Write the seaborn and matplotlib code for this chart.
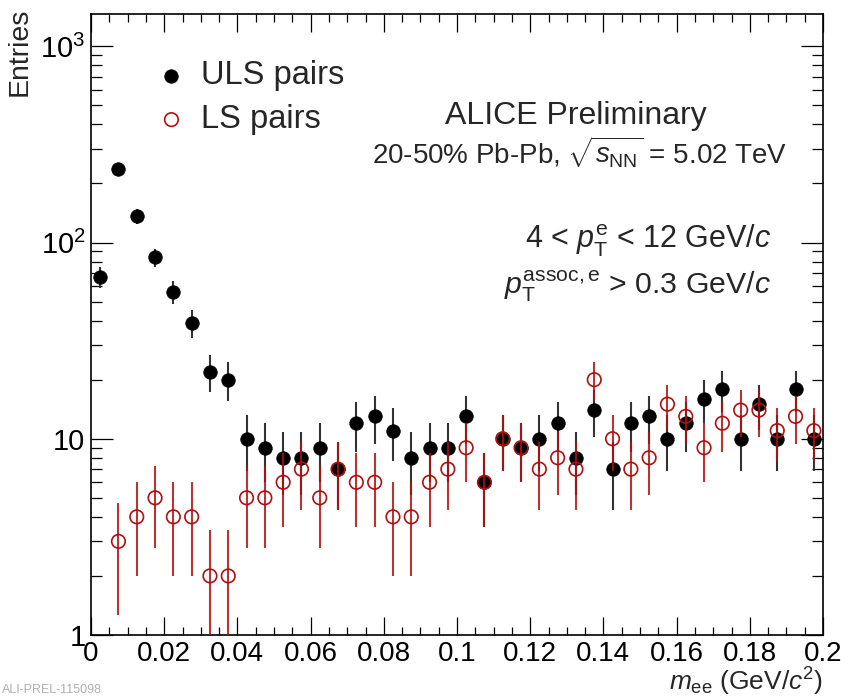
import numpy as np
import pandas as pd
import matplotlib
matplotlib.use('Agg')
import matplotlib.pyplot as plt
import matplotlib.ticker as mticker
import seaborn as sns

# bin centres of m_ee (GeV/c^2), 40 bins of 5 MeV
mass = np.arange(0.0025, 0.2, 0.005)

uls_counts = [67, 236, 136, 84, 56, 39, 22, 20, 10, 9,
              8, 8, 9, 7, 12, 13, 11, 8, 9, 9,
              13, 6, 10, 9, 10, 12, 8, 14, 7, 12,
              13, 10, 12, 16, 18, 10, 15, 10, 18, 10]
ls_counts = [0, 3, 4, 5, 4, 4, 2, 2, 5, 5,
             6, 7, 5, 7, 6, 6, 4, 4, 6, 7,
             9, 6, 10, 9, 7, 8, 7, 20, 10, 7,
             8, 15, 13, 9, 12, 14, 14, 11, 13, 11]

ytick_vals = [1, 10, 100, 1000]
ytick_labels = ['1', '10', r'$10^{2}$', r'$10^{3}$']

sns.set_style('ticks')
plt.rcParams['font.family'] = ['Liberation Sans', 'DejaVu Sans']
plt.rcParams['mathtext.fontset'] = 'custom'
plt.rcParams['mathtext.rm'] = 'Liberation Sans'
plt.rcParams['mathtext.it'] = 'Liberation Sans:italic'
plt.rcParams['mathtext.bf'] = 'Liberation Sans:bold'

df = pd.DataFrame({'mass': np.concatenate([mass, mass]),
                   'counts': np.concatenate([uls_counts, ls_counts]),
                   'pair': ['ULS pairs'] * len(mass) + ['LS pairs'] * len(mass)})
df = df[df['counts'] > 0]
df['err'] = np.sqrt(df['counts'])

red = '#b01010'

fig = plt.figure(figsize=(8.5, 6.97), dpi=100)
ax = fig.add_axes([91 / 850, 62 / 697, 732 / 850, 621 / 697])

uls = df[df['pair'] == 'ULS pairs']
ls = df[df['pair'] == 'LS pairs']

ax.errorbar(uls['mass'], uls['counts'], yerr=uls['err'], fmt='none',
            ecolor='#333333', elinewidth=1.5, capsize=0, zorder=2)
sns.scatterplot(data=uls, x='mass', y='counts', ax=ax, marker='o', s=95,
                color='black', edgecolor='black', linewidth=0.5,
                label='ULS pairs', zorder=3)
ax.errorbar(ls['mass'], ls['counts'], yerr=ls['err'], fmt='none',
            ecolor=red, elinewidth=1.5, capsize=0, alpha=0.85, zorder=4)
sns.scatterplot(data=ls, x='mass', y='counts', ax=ax, marker='o', s=95,
                facecolor='none', edgecolor=red, linewidth=1.2,
                label='LS pairs', zorder=5)

ax.set_yscale('log')
ax.set_xlim(0, 0.2)
ax.set_ylim(1, 1460)

ax.xaxis.set_major_locator(mticker.MultipleLocator(0.02))
ax.xaxis.set_minor_locator(mticker.MultipleLocator(0.005))
ax.xaxis.set_major_formatter(mticker.FuncFormatter(lambda v, p: f'{v:g}'))
ax.yaxis.set_major_locator(mticker.FixedLocator(ytick_vals))
ax.yaxis.set_major_formatter(mticker.FixedFormatter(ytick_labels))
ax.yaxis.set_minor_locator(mticker.LogLocator(base=10, subs=np.arange(2, 10)))
ax.yaxis.set_minor_formatter(mticker.NullFormatter())

ax.tick_params(which='both', direction='in', top=True, right=True, width=0.9, colors='black')
ax.tick_params(axis='x', which='major', length=13, labelsize=20, pad=4)
ax.tick_params(axis='x', which='minor', length=6)
ax.tick_params(axis='y', which='major', length=16, labelsize=21, pad=4)
ax.tick_params(axis='y', which='minor', length=8)
for sp in ax.spines.values():
    sp.set_linewidth(1.2)
    sp.set_color('black')

ax.set_xlabel(r'$m_{\rm ee}$ (GeV/$c^{2}$)', fontsize=19, loc='right', labelpad=0)
ax.set_ylabel('Entries', fontsize=20.5, loc='top', labelpad=0)
ax.yaxis.set_label_coords(-0.08, 1.011)
ax.xaxis.set_label_coords(1.0, -0.05)

leg = ax.legend(loc='upper left', bbox_to_anchor=(0.043, 0.973), frameon=False,
                fontsize=23.5, handletextpad=0.3, labelspacing=0.4,
                markerscale=1.0, handlelength=1.2)

def fpos(x, y):
    return x / 850, 1 - y / 697

fig.text(*fpos(576, 124), 'ALICE Preliminary', fontsize=23, ha='center', va='baseline')
fig.text(*fpos(580, 163), r'20-50% Pb-Pb, $\sqrt{s_{\rm NN}}$ = 5.02 TeV',
         fontsize=20, ha='center', va='baseline')
fig.text(*fpos(771, 249), r'4 < $p_{\rm T}^{\rm e}$ < 12 GeV/$c$',
         fontsize=22, ha='right', va='baseline')
fig.text(*fpos(771, 294), r'$p_{\rm T}^{\rm assoc,e}$ > 0.3 GeV/$c$',
         fontsize=21.8, ha='right', va='baseline')
fig.text(*fpos(2, 684), 'ALI-PREL-115098', fontsize=9, color='#b0b0b0',
         ha='left', va='top')

fig.savefig('out.png', dpi=100)
